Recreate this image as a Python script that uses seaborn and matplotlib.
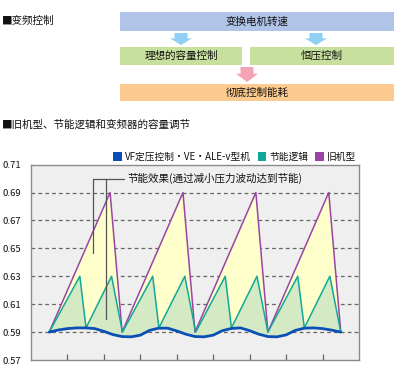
import matplotlib
matplotlib.use("Agg")
import matplotlib.pyplot as plt
import seaborn as sns
import numpy as np
from matplotlib.patches import Rectangle, Polygon, Patch
from matplotlib.lines import Line2D

sns.set_style("white")
plt.rcParams['font.family'] = ['Noto Sans CJK SC', 'DejaVu Sans']

# ---------------- data ----------------
old_x = [0.5, 2.17, 2.5, 4.17, 4.5, 6.17, 6.5, 8.17, 8.5]
old_y = [0.59, 0.69, 0.59, 0.69, 0.59, 0.69, 0.59, 0.69, 0.59]

eco_x = [0.5, 1.34, 1.51, 2.21, 2.51, 3.34, 3.51, 4.22, 4.52, 5.33, 5.5, 6.2, 6.5, 7.32, 7.5, 8.2, 8.5]
eco_y = [0.59, 0.63, 0.593, 0.63, 0.59, 0.63, 0.593, 0.63, 0.59, 0.63, 0.593, 0.63, 0.59, 0.63, 0.593, 0.63, 0.59]

vf_x = [0.5, 0.75, 1.0, 1.25, 1.5, 1.75, 2.0, 2.25, 2.5, 2.75, 3.0, 3.25, 3.5, 3.75, 4.0, 4.25,
        4.5, 4.75, 5.0, 5.25, 5.5, 5.75, 6.0, 6.25, 6.5, 6.75, 7.0, 7.25, 7.5, 7.75, 8.0, 8.25, 8.5]
vf_y = [0.590, 0.5915, 0.5925, 0.593, 0.593, 0.5925, 0.5905, 0.5882, 0.5868, 0.5866, 0.5878, 0.5912,
        0.5928, 0.5928, 0.5908, 0.5885, 0.5868, 0.5866, 0.5878, 0.5910, 0.5926, 0.5930, 0.5910,
        0.5885, 0.5868, 0.5866, 0.5880, 0.5912, 0.5928, 0.5930, 0.5925, 0.5914, 0.590]

y_ticks = [0.57, 0.59, 0.61, 0.63, 0.65, 0.67, 0.69, 0.71]
y_labels = ["0.57", "0.59", "0.61", "0.63", "0.65", "0.67", "0.69", "0.71"]
x_ticks = [1, 2, 3, 4, 5, 6, 7, 8]

legend_labels = ["VF定压控制・VE・ALE-v型机", "节能逻辑", "旧机型"]
annotation_text = "节能效果(通过减小压力波动达到节能)"

title1 = "■变频控制"
title2 = "■旧机型、节能逻辑和变频器的容量调节"
box_top = "变换电机转速"
box_mid_left = "理想的容量控制"
box_mid_right = "恒压控制"
box_bottom = "彻底控制能耗"

c_blue = "#0a50b4"
c_teal = "#12a898"
c_purple = "#9a44a4"
c_yellow = "#ffffcc"
c_green = "#d4eac4"

W, H = 402, 381
fig = plt.figure(figsize=(W / 100, H / 100), dpi=100)
fig.patch.set_facecolor("white")

# ---------------- overlay for diagram ----------------
ov = fig.add_axes([0, 0, 1, 1], zorder=0)
ov.set_xlim(0, W)
ov.set_ylim(H, 0)
ov.axis("off")

fs = 7.6
tc = "#111111"
ov.text(2, 20.5, title1, fontsize=fs, va="center", ha="left", color=tc)
ov.text(2, 125, title2, fontsize=fs, va="center", ha="left", color=tc)

def box(x0, y0, x1, y1, color, label):
    ov.add_patch(Rectangle((x0, y0), x1 - x0, y1 - y0, facecolor=color, edgecolor="none"))
    ov.text((x0 + x1) / 2, (y0 + y1) / 2, label, fontsize=fs, ha="center", va="center", color=tc)

box(120, 12.3, 394, 30.7, "#b0c4e8", box_top)
box(120, 46.7, 242, 65, "#c8e09e", box_mid_left)
box(250, 46.7, 394, 65, "#c8e09e", box_mid_right)
box(120, 84, 394, 101, "#fdcb8f", box_bottom)

def arrow(cx, y0, y1, color):
    stem_h = (y1 - y0) * 0.45
    sw, hw = 6.5, 11
    pts = [(cx - sw, y0), (cx + sw, y0), (cx + sw, y0 + stem_h), (cx + hw, y0 + stem_h),
           (cx, y1), (cx - hw, y0 + stem_h), (cx - sw, y0 + stem_h)]
    ov.add_patch(Polygon(pts, closed=True, facecolor=color, edgecolor="none"))

arrow(181, 33, 45, "#8fd0f4")
arrow(316, 33, 45, "#8fd0f4")
arrow(247, 67, 82, "#f4a3b4")

# ---------------- main chart ----------------
left, right, top, bottom = 31, 359, 164.6, 360
ax = fig.add_axes([left / W, (H - bottom) / H, (right - left) / W, (bottom - top) / H], zorder=2)
ax.set_facecolor("#efefef")
ax.set_xlim(0, 9)
ax.set_ylim(0.57, 0.71)

for yv in y_ticks[1:-1]:
    ax.axhline(yv, color="#666666", lw=0.9, ls=(0, (3, 2.5)), zorder=1)

# fills
old_poly = list(zip(old_x, old_y)) + list(zip(vf_x[::-1], vf_y[::-1]))
eco_poly = list(zip(eco_x, eco_y)) + list(zip(vf_x[::-1], vf_y[::-1]))
ax.add_patch(Polygon(old_poly, closed=True, facecolor=c_yellow, edgecolor="none", zorder=2))
ax.add_patch(Polygon(eco_poly, closed=True, facecolor=c_green, edgecolor="none", zorder=3))

sns.lineplot(x=old_x, y=old_y, ax=ax, color=c_purple, lw=1.1, estimator=None, sort=False, zorder=4)
sns.lineplot(x=eco_x, y=eco_y, ax=ax, color=c_teal, lw=1.1, estimator=None, sort=False, zorder=5)
sns.lineplot(x=vf_x, y=vf_y, ax=ax, color=c_blue, lw=2.0, estimator=None, sort=False, zorder=6)

# annotation bracket
ax.plot([1.71, 2.55], [0.700, 0.700], color="#555555", lw=0.9, zorder=7)
ax.plot([1.71, 1.71], [0.700, 0.647], color="#555555", lw=0.9, zorder=7)
ax.plot([2.05, 2.05], [0.700, 0.5995], color="#555555", lw=0.9, zorder=7)
ax.text(2.65, 0.700, annotation_text, fontsize=fs, va="center", ha="left", color=tc, zorder=8)

ax.set_yticks(y_ticks)
ax.set_yticklabels(y_labels, fontsize=6.8, color=tc)
ax.set_xticks(x_ticks)
ax.set_xticklabels([])
ax.tick_params(axis="x", direction="in", length=4, width=0.9, color="#666666", bottom=True)
ax.tick_params(axis="y", length=0, pad=7)
for s in ax.spines.values():
    s.set_color("#8a8a8a")
    s.set_linewidth(1.0)

handles = [Patch(facecolor=c_blue, edgecolor="none"),
           Patch(facecolor=c_teal, edgecolor="none"),
           Patch(facecolor=c_purple, edgecolor="none")]
ax.legend(handles, legend_labels, loc="lower right", bbox_to_anchor=(1.0, 1.0), ncol=3,
          frameon=False, fontsize=7.0, handlelength=0.9, handleheight=1.1, handletextpad=0.3,
          columnspacing=0.7, borderaxespad=0.2, borderpad=0.1, labelcolor=tc)

fig.savefig("out.png", dpi=100, facecolor="white")
